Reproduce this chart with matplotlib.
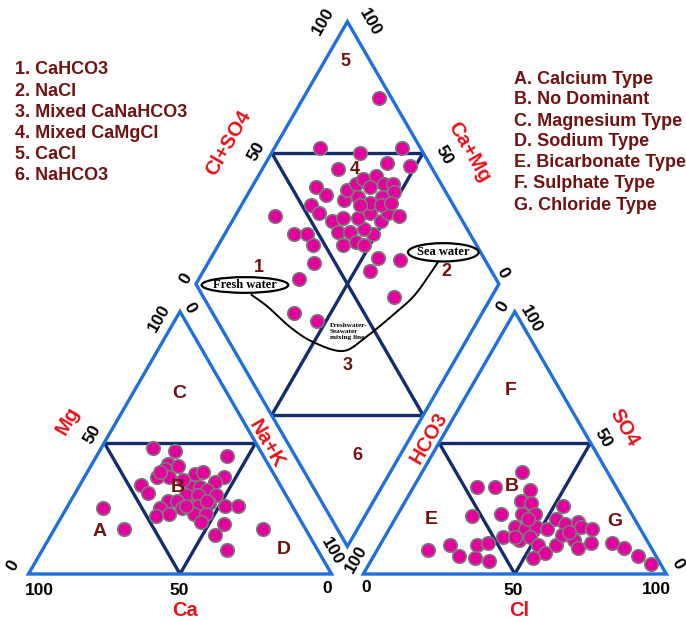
import numpy as np
import matplotlib
matplotlib.use("Agg")
import matplotlib.pyplot as plt
from matplotlib.patches import Ellipse, Polygon

# ---------------- data (percent) ----------------
# cation triangle: Ca %, Mg % (Na+K = 100 - Ca - Mg)
cat_ca = [35, 28, 12, 33, 35, 30, 39, 35, 26, 23, 17, 21, 46, 45, 30, 27, 25, 33, 29, 23,
          40, 37, 44, 37, 33, 31, 27, 42, 47, 34, 30, 33, 22, 18, 26, 31, 30, 14, 63, 60,
          31, 37, 27, 35]
cat_mg = [48, 47, 45, 42, 40, 41, 37, 37, 38, 39, 37, 35, 34, 31, 33, 33, 32, 30, 30, 30,
          28, 28, 25, 25, 26, 26, 27, 23, 22, 23, 23, 20, 26, 26, 19, 15, 9, 17, 25, 17,
          36, 39, 28, 26]
# anion triangle: Cl %, SO4 % (HCO3 = 100 - Cl - SO4)
an_cl = [33, 21, 27, 39, 38, 42, 25, 34, 41, 45, 53, 41, 45, 48, 52, 53, 57, 61, 63, 67,
         39, 45, 48, 52, 56, 58, 58, 63, 66, 69, 76, 81, 87, 93, 17, 23, 28, 32, 35, 34,
         39, 53, 43, 44, 60]
an_so4 = [39, 33, 33, 32, 28, 27, 22, 23, 23, 23, 26, 18, 17, 18, 17, 21, 19, 20, 18, 17,
          14, 13, 14, 11, 8, 11, 15, 13, 10, 12, 12, 10, 7, 4, 9, 11, 7, 11, 12, 6,
          5, 6, 14, 21, 16]
# diamond: Cl+SO4 %, Ca+Mg %
dia_clso4 = [96, 67, 79, 94, 69, 86, 93, 58, 60, 53, 54, 39, 42, 46, 46, 43, 35, 27, 33, 57,
             61, 57, 56, 61, 61, 63, 68, 66, 66, 71, 73, 77, 80, 65, 68, 72, 75, 80, 81, 84,
             83, 78, 76, 70, 73, 76, 80, 69, 65, 72, 60, 63]
dia_camg = [75, 85, 71, 58, 75, 60, 52, 79, 74, 77, 73, 87, 77, 73, 69, 65, 67, 62, 53, 67,
            64, 63, 59, 59, 55, 52, 51, 55, 59, 56, 51, 50, 46, 67, 68, 66, 65, 61, 57, 54,
            52, 55, 61, 63, 58, 54, 51, 61, 45, 37, 45, 32]

legend_left = ["1. CaHCO3", "2. NaCl", "3. Mixed CaNaHCO3", "4. Mixed CaMgCl",
               "5. CaCl", "6. NaHCO3"]
legend_right = ["A. Calcium Type", "B. No Dominant", "C. Magnesium Type", "D. Sodium Type",
                "E. Bicarbonate Type", "F. Sulphate Type", "G. Chloride Type"]

# ---------------- geometry ----------------
H = np.sqrt(3) / 2
G = 0.105
SCALE = 303.0
X0, Y0 = 28.5, 574.0

def P(px, py):
    return ((px - X0) / SCALE, (Y0 - py) / SCALE)

BLUE = "#1F6FDC"
NAVY = "#142B6C"
MAG = "#E4009C"
MAROON = "#6E1212"
RED = "#E3141B"

fig = plt.figure(figsize=(6.86, 6.22), dpi=100)
ax = fig.add_axes([0, 0, 1, 1])
ax.set_xlim(-X0 / SCALE, (686 - X0) / SCALE)
ax.set_ylim(-(622 - Y0) / SCALE, Y0 / SCALE)
ax.set_aspect("equal")
ax.axis("off")

lt = np.array([[0, 0], [1, 0], [0.5, H]])
rt = lt + np.array([1 + G, 0])
B = np.array([1 + G / 2, G / 2 * np.sqrt(3)])
R = B + np.array([0.5, H])
L = B + np.array([-0.5, H])
T = B + np.array([0, 2 * H])
dia = np.array([B, R, T, L])

for poly in (lt, rt, dia):
    ax.add_patch(Polygon(poly, closed=True, fill=False, ec=BLUE, lw=2.4, zorder=2,
                         joinstyle="miter"))

def seg(p, q):
    ax.plot([p[0], q[0]], [p[1], q[1]], color=NAVY, lw=2.4, zorder=1.5,
            solid_capstyle="butt")

for tri in (lt, rt):
    ml = (tri[0] + tri[2]) / 2
    mr = (tri[1] + tri[2]) / 2
    mb = (tri[0] + tri[1]) / 2
    seg(ml, mr); seg(ml, mb); seg(mb, mr)

mLT, mRT, mLB, mRB = (L + T) / 2, (R + T) / 2, (L + B) / 2, (R + B) / 2
seg(mLT, mRT); seg(mLB, mRB); seg(mLT, mRB); seg(mRT, mLB)

# ---------------- points ----------------
ca = np.array(cat_ca, float); mg = np.array(cat_mg, float)
na = 100 - ca - mg
cx = (na + mg / 2) / 100
cy = mg / 100 * H

cl = np.array(an_cl, float); so4 = np.array(an_so4, float)
ax_ = 1 + G + (cl + so4 / 2) / 100
ay_ = so4 / 100 * H

a = np.array(dia_clso4, float) / 100
c = np.array(dia_camg, float) / 100
dx = B[0] + a * (R - B)[0] + c * (L - B)[0]
dy = B[1] + a * (R - B)[1] + c * (L - B)[1]

kw = dict(s=95, c=MAG, edgecolors="#7b7b7b", linewidths=1.2, zorder=4)
ax.scatter(cx, cy, **kw)
ax.scatter(ax_, ay_, **kw)
ax.scatter(dx, dy, **kw)

# ---------------- mixing line & ellipses ----------------
def catmull(pts, n=25):
    pts = np.asarray(pts, float)
    p = np.vstack([pts[0], pts, pts[-1]])
    out = []
    t = np.linspace(0, 1, n)[:, None]
    for i in range(1, len(p) - 2):
        p0, p1, p2, p3 = p[i - 1], p[i], p[i + 1], p[i + 2]
        out.append(0.5 * (2 * p1 + (-p0 + p2) * t + (2 * p0 - 5 * p1 + 4 * p2 - p3) * t ** 2
                          + (-p0 + 3 * p1 - 3 * p2 + p3) * t ** 3))
    return np.vstack(out)

curve_px = [(251.7, 295), (268, 307), (290, 327), (313, 342), (343, 351), (366, 337),
            (393, 315), (413, 297), (428, 277), (438, 262)]
cv = catmull([P(*q) for q in curve_px])
ax.plot(cv[:, 0], cv[:, 1], color="black", lw=1.4, zorder=3)

for (px, py, w, h, txt) in [(245, 285, 86.7, 15.7, "Fresh water"),
                            (443.3, 252.3, 70.7, 18.3, "Sea water")]:
    ax.add_patch(Ellipse(P(px, py), w / SCALE, h / SCALE, fc="white", ec="black",
                         lw=1.6, zorder=5))
    ax.text(*P(px, py), txt, ha="center", va="center", fontsize=9, fontweight="bold",
            family="Liberation Serif", zorder=6)

ax.text(*P(330, 331.5), "Freshwater-\nSeawater\nmixing line", ha="left", va="center",
        fontsize=5.2, fontweight="bold", family="Liberation Serif", linespacing=1.15,
        zorder=6)

# ---------------- text ----------------
FONT = "Liberation Sans"
for i, s in enumerate(legend_left):
    ax.text(*P(15, 70 + 21.1 * i), s, ha="left", va="center", fontsize=13,
            fontweight="bold", color=MAROON, family=FONT)
for i, s in enumerate(legend_right):
    ax.text(*P(514, 79 + 21 * i), s, ha="left", va="center", fontsize=13,
            fontweight="bold", color=MAROON, family=FONT)

for s, px, py in [("1", 259, 268), ("2", 446.5, 271), ("3", 347.5, 366), ("4", 355, 170),
                  ("5", 345.6, 62), ("6", 357.8, 455)]:
    ax.text(*P(px, py), s, ha="center", va="center", fontsize=13, fontweight="bold",
            color=MAROON, family=FONT, zorder=6)
for s, px, py in [("C", 179.4, 394), ("B", 177.3, 487.3), ("A", 99.3, 531.7), ("D", 283.5, 549.3),
                  ("F", 510.5, 390.3), ("B", 511.7, 486.7), ("E", 431.7, 520), ("G", 615, 521.7)]:
    ax.text(*P(px, py), s, ha="center", va="center", fontsize=14, fontweight="bold",
            color=MAROON, family=FONT, zorder=6)

for s, px, py, rot in [("Cl+SO4", 228.3, 143.3, 60), ("Ca+Mg", 469, 151.7, -60),
                       ("Mg", 67.8, 421, 60), ("Na+K", 266.8, 444.3, -60),
                       ("HCO3", 428.7, 437.7, 60), ("SO4", 624.7, 427.7, -60),
                       ("Ca", 185, 611, 0), ("Cl", 519.5, 611, 0)]:
    ax.text(*P(px, py), s, ha="center", va="center", fontsize=14.5, fontweight="bold",
            color=RED, family=FONT, rotation=rot, rotation_mode="anchor", zorder=6)

ticks = [("100", 39.4, 590.3, 0), ("50", 179.4, 590.3, 0), ("0", 327.2, 588.3, 0),
         ("0", 13, 566, 60), ("50", 92, 434, 60), ("100", 159.7, 318, 60),
         ("0", 190, 308, -60), ("100", 332.5, 551, -60),
         ("0", 366.6, 587, 0), ("50", 512.7, 590.3, 0), ("100", 656.2, 589.3, 0),
         ("0", 503, 307, 60), ("100", 356.5, 559, 60),
         ("100", 531.5, 319, -60), ("50", 602.8, 437.7, -60), ("0", 678, 564, -60),
         ("100", 323.7, 21, 60), ("100", 369.6, 22, -60), ("50", 255.9, 151.7, 60),
         ("50", 444, 155, -60), ("0", 186, 278.3, 60), ("0", 503, 273.3, -60)]
for s, px, py, rot in ticks:
    ax.text(*P(px, py), s, ha="center", va="center", fontsize=12.5, fontweight="bold",
            color="black", family=FONT, rotation=rot, rotation_mode="anchor", zorder=6)

fig.savefig("out.png", dpi=100)
